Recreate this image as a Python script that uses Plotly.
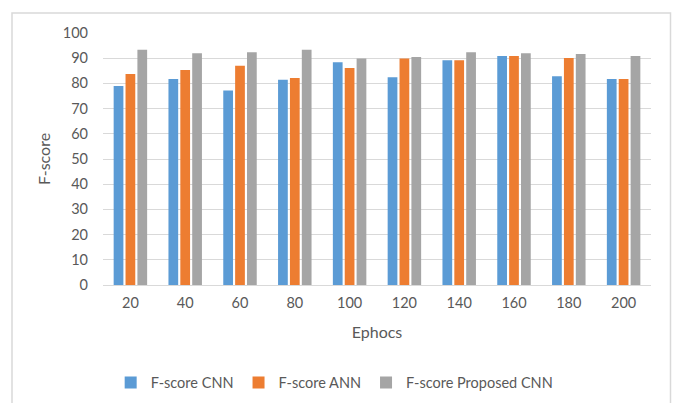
import plotly.graph_objects as go

# Epoch counts on the category axis
epochs = ["20", "40", "60", "80", "100", "120", "140", "160", "180", "200"]

# F-score per model
fscore_cnn = [79.0, 81.7, 77.2, 81.4, 88.4, 82.4, 89.2, 90.9, 82.8, 81.7]
fscore_ann = [83.7, 85.3, 87.0, 82.1, 86.1, 89.9, 89.2, 90.9, 90.1, 81.7]
fscore_proposed = [93.4, 92.0, 92.4, 93.4, 89.9, 90.5, 92.4, 92.0, 91.7, 90.9]

series = [
    ("F-score CNN", fscore_cnn, "#5B9BD5"),
    ("F-score ANN", fscore_ann, "#ED7D31"),
    ("F-score Proposed CNN", fscore_proposed, "#A5A5A5"),
]

FONT = "Lato"
TEXT = "#595959"
GRID = "#D9D9D9"

fig = go.Figure()
for name, vals, color in series:
    fig.add_trace(go.Bar(x=epochs, y=vals, name=name, marker_color=color,
                         marker_line_width=0))

W, H = 675, 403
L, R, T, B = 103, 24, 33, 118
pw, ph = W - L - R, H - T - B

fig.update_layout(
    width=W, height=H,
    margin=dict(l=L, r=R, t=T, b=B, autoexpand=False),
    paper_bgcolor="white", plot_bgcolor="white",
    font=dict(family=FONT, size=14.5, color=TEXT),
    barmode="group", bargap=0.35, bargroupgap=0.18,
    showlegend=True,
    legend=dict(orientation="h", x=0.014, xanchor="left", y=-0.387, yanchor="middle",
                font=dict(size=14.5, color=TEXT), itemwidth=30, traceorder="normal"),
    xaxis=dict(
        automargin=False,
        showgrid=False, showline=True, linecolor=GRID, linewidth=1,
        ticks="", tickfont=dict(size=14.5, color=TEXT), ticklabelstandoff=5,
        title=dict(text="Ephocs", font=dict(size=16, color=TEXT), standoff=16),
    ),
    yaxis=dict(
        automargin=False,
        range=[0, 100], dtick=10, showgrid=True, gridcolor=GRID, gridwidth=1,
        zeroline=False, showline=False, ticks="",
        tickfont=dict(size=14.5, color=TEXT), ticklabelstandoff=14,
        title=dict(text="F-score", font=dict(size=16, color=TEXT), standoff=8),
    ),
)

# Outer chart frame
fig.add_shape(
    type="rect", xref="paper", yref="paper",
    x0=(12 - L) / pw, x1=(670.5 - L) / pw,
    y0=(H - B - 13) / ph, y1=(H - B - 420) / ph,
    line=dict(color=GRID, width=1.5), fillcolor="rgba(0,0,0,0)", layer="below",
)

fig.write_html("out.html")
